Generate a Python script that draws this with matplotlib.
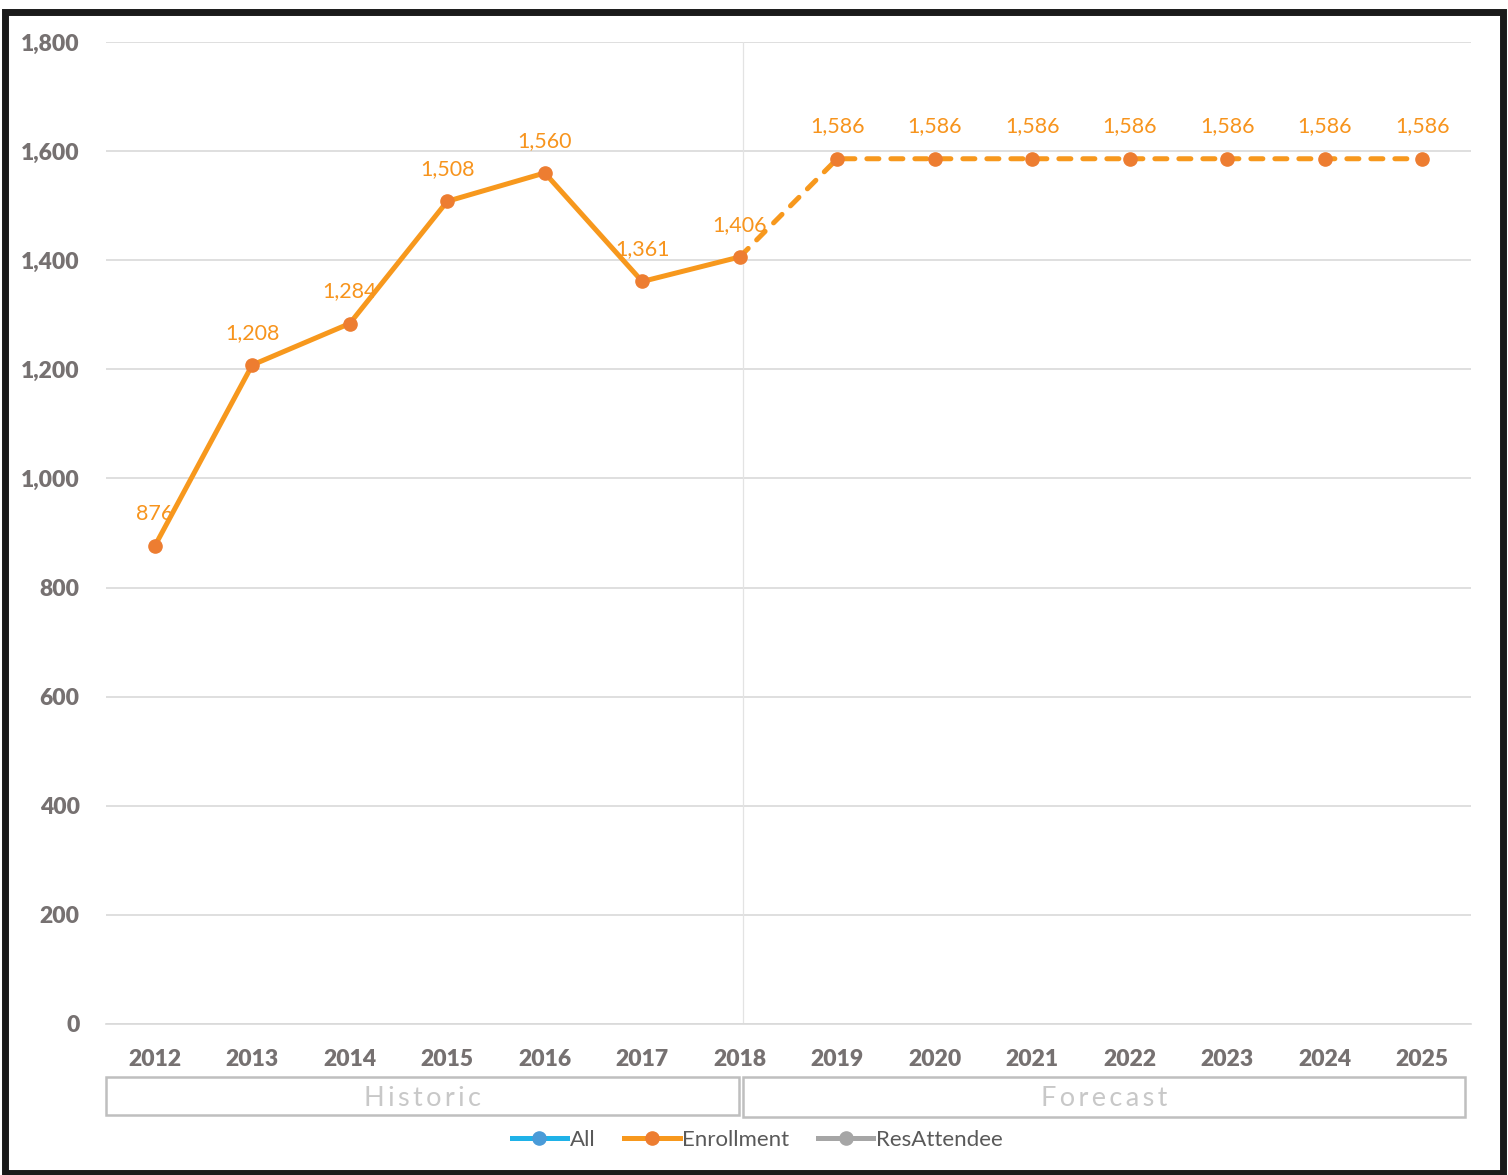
import matplotlib.pyplot as plt
from matplotlib.lines import Line2D
from matplotlib.patches import Rectangle
from matplotlib.ticker import FuncFormatter

plt.rcParams['font.family'] = ['Lato', 'DejaVu Sans']

years = ['2012', '2013', '2014', '2015', '2016', '2017', '2018',
         '2019', '2020', '2021', '2022', '2023', '2024', '2025']
enrollment = [876, 1208, 1284, 1508, 1560, 1361, 1406,
              1586, 1586, 1586, 1586, 1586, 1586, 1586]
last_actual = 6  # index of 2018, last historic year

line_col = '#F7981D'
marker_col = '#ED7D31'
label_col = '#F7941D'
tick_col = '#767171'

fig = plt.figure(figsize=(15.08, 11.75), dpi=100)
ax = fig.add_axes([106 / 1508, 1 - 1024 / 1175, (1471 - 106) / 1508, (1024 - 42) / 1175])

x = list(range(len(years)))
hist_x, hist_y = x[:last_actual + 1], enrollment[:last_actual + 1]
fc_x, fc_y = x[last_actual:], enrollment[last_actual:]

ax.plot(hist_x, hist_y, color=line_col, lw=3.6, solid_capstyle='round', zorder=3)
ax.plot(fc_x, fc_y, color=line_col, lw=3.6, ls=(0, (2.4, 2.4)),
        dash_capstyle='round', zorder=3)
ax.plot(x, enrollment, ls='none', marker='o', ms=9.5, color=marker_col, zorder=4)

for xi, v in zip(x, enrollment):
    ax.annotate(f'{v:,}', (xi, v), xytext=(0, 16), textcoords='offset points',
                ha='center', va='bottom', fontsize=15.5, color=label_col, zorder=5)

ax.set_xlim(-0.5, len(years) - 0.5)
ax.set_ylim(0, 1800)
ax.set_yticks(range(0, 1801, 200))
ax.yaxis.set_major_formatter(FuncFormatter(lambda v, _: f'{int(v):,}'))
ax.set_xticks(x)
ax.set_xticklabels(years)
ax.tick_params(axis='both', length=0, labelsize=16.5, labelcolor=tick_col)
ax.tick_params(axis='x', pad=18)
ax.tick_params(axis='y', pad=19)
for lab in ax.get_xticklabels() + ax.get_yticklabels():
    lab.set_fontweight('heavy')

ax.grid(axis='y', color='#D9D9D9', lw=1.2)
ax.set_axisbelow(True)
for s in ['top', 'right', 'left']:
    ax.spines[s].set_visible(False)
ax.spines['bottom'].set_color('#D9D9D9')
ax.spines['bottom'].set_linewidth(1.2)

# divider between historic and forecast years
ax.axvline(last_actual + 0.03, color='#E3E3E3', lw=0.9, zorder=1)

# Historic / Forecast boxes below the year labels
def px(xp, yp):
    return xp / 1508, 1 - yp / 1175

for x0, x1, y0, y1, txt in [(106, 739, 1077, 1115, 'Historic'),
                            (743, 1465, 1077, 1117, 'Forecast')]:
    bx, by = px(x0, y1)
    fig.patches.append(Rectangle((bx, by), (x1 - x0) / 1508, (y1 - y0) / 1175,
                                 transform=fig.transFigure, fill=False,
                                 ec='#BFBFBF', lw=1.8))
    cx, cy = px((x0 + x1) / 2, (y0 + y1) / 2 + 2)
    fig.text(cx, cy, '\u2009'.join(txt), ha='center', va='center',
             fontsize=19.5, color='#C8C8C8')

handles = [
    Line2D([], [], color='#1FB2E8', lw=3.6, marker='o', ms=9.5, mfc='#4A9BD8', mec='#4A9BD8'),
    Line2D([], [], color=line_col, lw=3.6, marker='o', ms=9.5, mfc=marker_col, mec=marker_col),
    Line2D([], [], color='#A6A6A6', lw=3.6, marker='o', ms=9.5, mfc='#A6A6A6', mec='#A6A6A6'),
]
fig.legend(handles, ['All', 'Enrollment', 'ResAttendee'], loc='center',
           bbox_to_anchor=(757 / 1508, 1 - 1140 / 1175), ncol=3, frameon=False,
           fontsize=16, labelcolor='#595959', handlelength=2.5, handletextpad=0.1,
           columnspacing=1.3)

# outer black frame
fig.patches.append(Rectangle((0.003, 0.002), 0.994, 0.988, transform=fig.transFigure,
                             fill=False, ec='#1A1A1A', lw=5))

fig.savefig('out.png', dpi=100)
